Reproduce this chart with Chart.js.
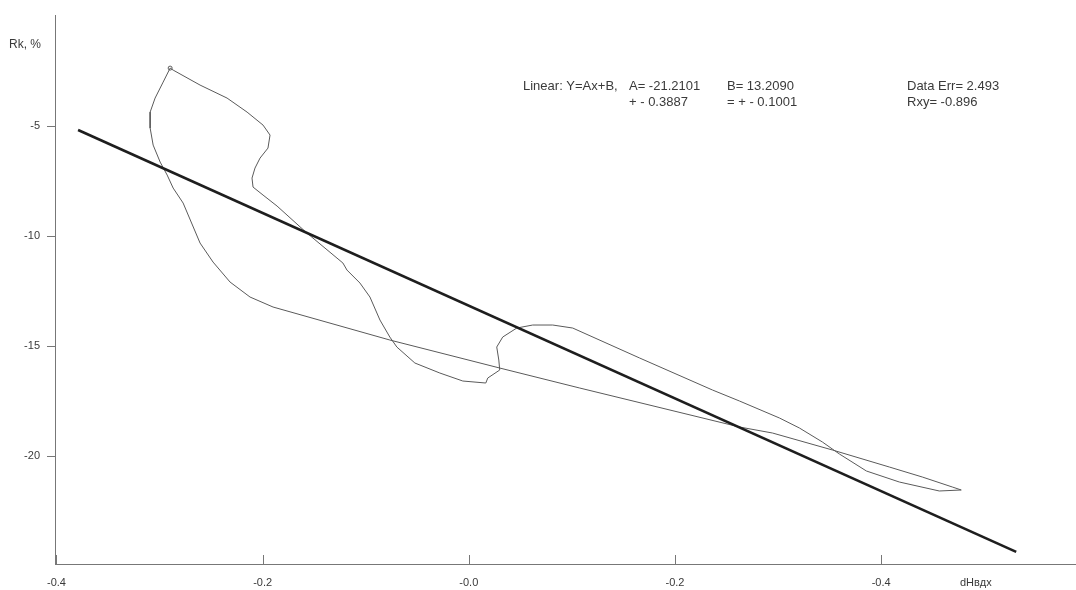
<!DOCTYPE html>
<html>
<head>
<meta charset="utf-8">
<script src="https://cdn.jsdelivr.net/npm/chart.js@4/dist/chart.umd.min.js"></script>
<style>
  html,body{margin:0;padding:0;background:#fff;}
  #wrap{width:1076px;height:590px;position:relative;}
</style>
</head>
<body>
<div id="wrap"><canvas id="c" width="1076" height="590"></canvas></div>
<script>
// ---- data ----
const curveX = [-0.2897,-0.2965,-0.3043,-0.3091,-0.3091,-0.3062,-0.2994,-0.2926,-0.2868,-0.2771,
  -0.2607,-0.2481,-0.2316,-0.2122,-0.1899,-0.0766,0.0300,0.1076,0.2626,0.2946,
  0.3527,0.4079,0.4399,0.4690,0.4777,0.4564,0.4176,0.3857,0.3595,0.3430,
  0.3207,0.3014,0.2626,0.2364,0.1657,0.1008,0.0814,0.0620,0.0465,0.0329,
  0.0271,0.0291,0.0300,0.0184,0.0165,-0.0058,-0.0281,-0.0523,-0.0698,-0.0766,
  -0.0862,-0.0959,-0.1056,-0.1182,-0.1221,-0.1570,-0.1860,-0.1996,-0.2093,-0.2103,
  -0.2074,-0.2025,-0.1948,-0.1928,-0.1996,-0.2151,-0.2345,-0.2607,-0.2868,-0.2897];
const curveY = [-2.364,-3.000,-3.727,-4.364,-5.091,-5.864,-6.636,-7.227,-7.818,-8.500,
  -10.318,-11.182,-12.091,-12.773,-13.227,-14.727,-16.000,-16.909,-18.682,-18.955,
  -19.727,-20.500,-20.955,-21.409,-21.545,-21.591,-21.182,-20.682,-19.909,-19.364,
  -18.727,-18.273,-17.500,-17.000,-15.545,-14.182,-14.045,-14.045,-14.182,-14.591,
  -15.045,-15.636,-16.091,-16.455,-16.682,-16.591,-16.227,-15.773,-15.045,-14.591,
  -13.818,-12.773,-12.136,-11.545,-11.227,-9.864,-8.636,-8.136,-7.773,-7.364,
  -6.909,-6.455,-6.000,-5.409,-4.955,-4.364,-3.727,-3.136,-2.455,-2.364];
const fitX = [-0.379, 0.531];
const fitY = [-5.18, -24.36];
const xTickValues = [-0.4, -0.2, 0.0, 0.2, 0.4];
const xTickLabels = ["-0.4", "-0.2", "-0.0", "-0.2", "-0.4"];
const yTickValues = [-20, -15, -10, -5];
const yTickLabels = ["-20", "-15", "-10", "-5"];
const yAxisTitle = "Rk, %";
const xAxisTitle = "dHвдх";
const statsLines = [
  ["Linear: Y=Ax+B,", "A= -21.2101", "B= 13.2090", "Data Err= 2.493"],
  ["", "+ - 0.3887", "= + - 0.1001", "Rxy= -0.896"]
];

const FONT = '"Liberation Sans", Arial, sans-serif';
const TXT = '#3a3a3a';

const textPlugin = {
  id: 'texts',
  afterDraw(chart) {
    const ctx = chart.ctx;
    const xs = chart.scales.x;
    ctx.save();
    // inward x tick marks
    ctx.strokeStyle = '#777';
    ctx.lineWidth = 1;
    const yb = chart.chartArea.bottom;
    xTickValues.forEach(v => {
      const px = Math.round(xs.getPixelForValue(v)) + 0.5;
      ctx.beginPath();
      ctx.moveTo(px, yb);
      ctx.lineTo(px, yb - 9);
      ctx.stroke();
    });
    ctx.fillStyle = TXT;
    ctx.textBaseline = 'middle';
    ctx.textAlign = 'left';
    ctx.font = '12px ' + FONT;
    ctx.fillText(yAxisTitle, 9, 45);
    ctx.font = '11px ' + FONT;
    ctx.fillText(xAxisTitle, 960, 583);
    ctx.font = '13px ' + FONT;
    const colX = [523, 629, 727, 907];
    const rowY = [86, 102];
    statsLines.forEach((row, r) => {
      row.forEach((t, i) => { if (t) ctx.fillText(t, colX[i], rowY[r]); });
    });
    ctx.restore();
  }
};

new Chart(document.getElementById('c'), {
  type: 'scatter',
  data: {
    datasets: [
      {
        data: fitX.map((x, i) => ({x, y: fitY[i]})),
        showLine: true,
        borderColor: '#1e1e1e',
        borderWidth: 2.6,
        pointRadius: 0,
        pointHoverRadius: 0,
        order: 1
      },
      {
        data: curveX.map((x, i) => ({x, y: curveY[i]})),
        showLine: true,
        borderColor: '#5a5a5a',
        borderWidth: 1,
        pointRadius: ctx => ctx.dataIndex === 0 ? 2 : 0,
        pointHoverRadius: 0,
        pointBorderColor: '#5a5a5a',
        pointBackgroundColor: 'rgba(0,0,0,0)',
        pointBorderWidth: 1,
        tension: 0,
        order: 2
      }
    ]
  },
  options: {
    responsive: false,
    devicePixelRatio: 1,
    animation: false,
    events: [],
    layout: { autoPadding: false, padding: { top: 15, right: 0, bottom: 0, left: 0 } },
    plugins: { legend: { display: false }, tooltip: { enabled: false } },
    scales: {
      x: {
        type: 'linear',
        min: -0.4014,
        max: 0.589,
        afterBuildTicks: s => { s.ticks = xTickValues.map(v => ({value: v})); },
        afterFit: s => { s.height = 26; s.paddingRight = 0; },
        grid: { display: false, drawTicks: false },
        border: { display: true, color: '#777', width: 1 },
        ticks: {
          font: { family: FONT, size: 11 },
          color: TXT,
          padding: 12,
          maxRotation: 0,
          autoSkip: false,
          callback: (v, i) => xTickLabels[i]
        }
      },
      y: {
        type: 'linear',
        min: -24.91,
        max: 0.05,
        afterBuildTicks: s => { s.ticks = yTickValues.map(v => ({value: v})); },
        afterFit: s => { s.width = 55; },
        grid: { drawOnChartArea: false, drawTicks: true, tickLength: 8, color: '#777' },
        border: { display: true, color: '#777', width: 1 },
        ticks: {
          font: { family: FONT, size: 11 },
          color: TXT,
          padding: 7,
          autoSkip: false,
          callback: (v, i) => yTickLabels[i]
        }
      }
    }
  },
  plugins: [textPlugin]
});
</script>
</body>
</html>
